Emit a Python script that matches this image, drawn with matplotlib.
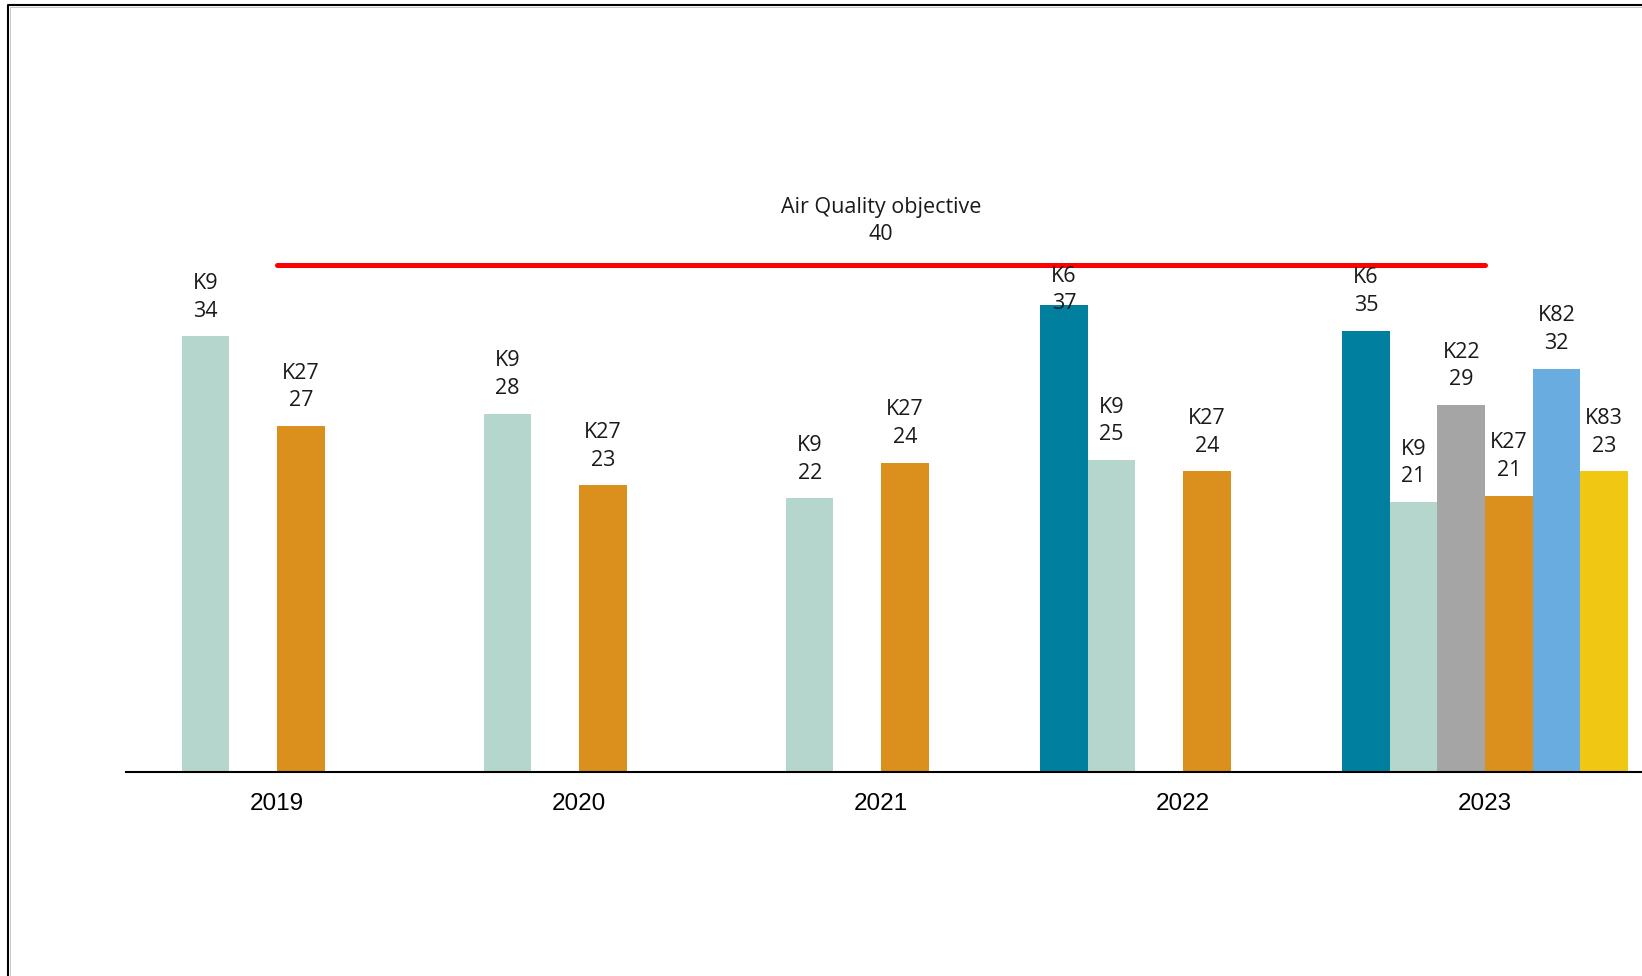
import numpy as np
import matplotlib
matplotlib.use("Agg")
import matplotlib.pyplot as plt
from matplotlib.lines import Line2D

nan = np.nan

years = ["2019", "2020", "2021", "2022", "2023"]
sites = ["K6", "K9", "K22", "K27", "K82", "K83"]

# bar heights (annual means)
k6 = [nan, nan, nan, 36.8, 34.8]
k9 = [34.35, 28.25, 21.6, 24.6, 21.3]
k22 = [nan, nan, nan, nan, 28.95]
k27 = [27.3, 22.6, 24.4, 23.7, 21.8]
k82 = [nan, nan, nan, nan, 31.8]
k83 = [nan, nan, nan, nan, 23.7]

# printed labels on the chart
k6_lbl = [None, None, None, 37, 35]
k9_lbl = [34, 28, 22, 25, 21]
k22_lbl = [None, None, None, None, 29]
k27_lbl = [27, 23, 24, 24, 21]
k82_lbl = [None, None, None, None, 32]
k83_lbl = [None, None, None, None, 23]

objective = 40

series = [k6, k9, k22, k27, k82, k83]
labels = [k6_lbl, k9_lbl, k22_lbl, k27_lbl, k82_lbl, k83_lbl]
colors = ["#007F9F", "#B4D6CD", "#A5A5A5", "#DB8F1C", "#69ACE0", "#F0C814"]

label_font = "Open Sans"

fig = plt.figure(figsize=(16.42, 9.76), dpi=100)
ax = fig.add_axes([126 / 1642, 204 / 976, 1 - 126 / 1642, 55 * 12.68 / 976])

x = np.arange(len(years))
w = 0.1575
for i, (vals, lbls, col) in enumerate(zip(series, labels, colors)):
    xs = x + (i - 2.5) * w
    ax.bar(xs, vals, width=w, color=col, linewidth=0, zorder=2)
    for xi, v, lb in zip(xs, vals, lbls):
        if lb is None:
            continue
        # labels that would run into the objective line get tucked under it
        dy = 10.5 if v + 4.9 < objective else -6.5
        ax.annotate(f"{sites[i]}\n{lb}", (xi, v), xytext=(0, dy),
                    textcoords="offset points", ha="center", va="bottom",
                    fontsize=15.5, family=label_font, color="#1a1a1a",
                    linespacing=1.42, zorder=4)

# objective line from first to last year
ax.plot([x[0], x[-1]], [objective, objective], color="#FF0000", lw=3.6,
        solid_capstyle="round", zorder=3)
ax.annotate(f"Air Quality objective\n{objective}", (x[len(x) // 2], objective),
            xytext=(0, 14), textcoords="offset points", ha="center", va="bottom",
            fontsize=15.5, family=label_font, color="#1a1a1a", linespacing=1.42)

ax.set_xlim(-0.5, 4.52)
ax.set_ylim(0, 55)
ax.set_xticks(x)
ax.set_xticklabels(years, fontsize=17.5, family="Liberation Sans")
ax.set_yticks([])
ax.tick_params(axis="x", length=0, pad=15)
for s in ["top", "right", "left"]:
    ax.spines[s].set_visible(False)
ax.spines["bottom"].set_linewidth(1.5)
ax.spines["bottom"].set_color("black")
ax.patch.set_alpha(0)

# outer frame (only left and top edges show)
x0, y1 = 7.5 / 1642, 1 - 4.5 / 976
fig.add_artist(Line2D([x0, x0, 1], [0, y1, y1], transform=fig.transFigure,
                      color="black", lw=1.5))
fig.add_artist(Line2D([x0 + 2 / 1642, x0 + 2 / 1642, 1], [0, y1 - 2 / 976, y1 - 2 / 976],
                      transform=fig.transFigure, color="#b0b0b0", lw=0.5))

fig.savefig("out.png", dpi=100)
